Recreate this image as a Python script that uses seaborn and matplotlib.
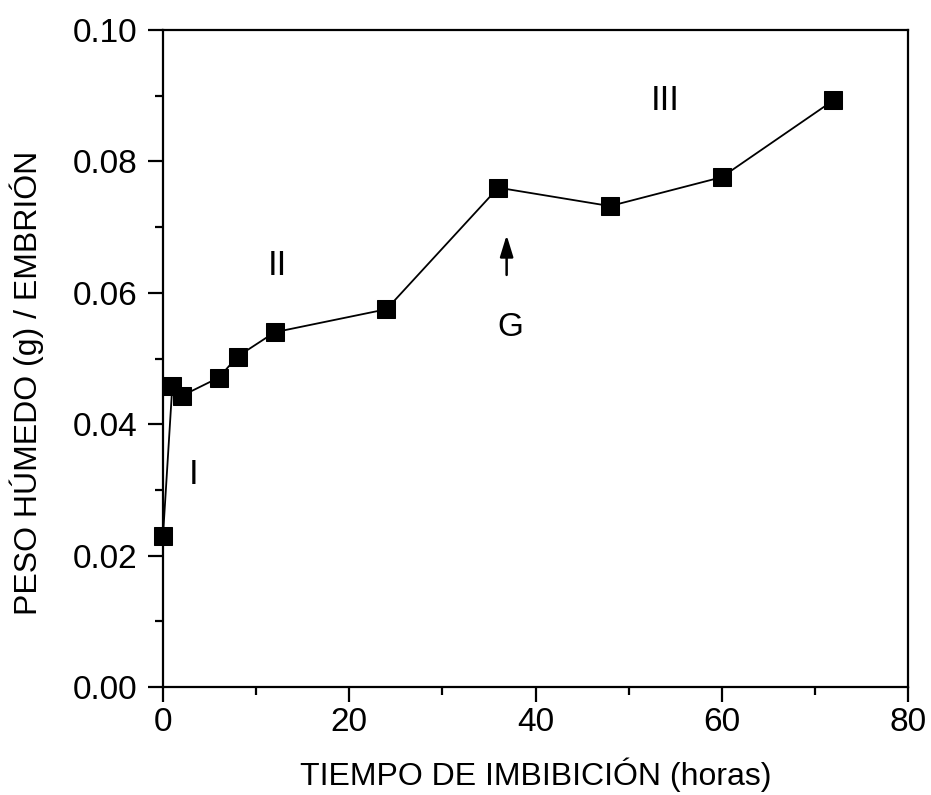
import matplotlib
matplotlib.use("Agg")
import matplotlib.pyplot as plt
from matplotlib.ticker import MultipleLocator
import seaborn as sns
import pandas as pd

hours = [0, 1, 2, 6, 8, 12, 24, 36, 48, 60, 72]
weight = [0.0230, 0.0458, 0.0443, 0.0471, 0.0503, 0.0540, 0.0575, 0.0760, 0.0732, 0.0776, 0.0893]

phase_labels = ["I", "II", "III"]
phase_x = [3.3, 12.3, 53.9]
phase_y = [0.0324, 0.0641, 0.0892]

sns.set_style("ticks")
plt.rcParams["font.family"] = ["Liberation Sans", "DejaVu Sans"]
for k in ["text.color", "axes.labelcolor", "xtick.color", "ytick.color", "axes.edgecolor"]:
    plt.rcParams[k] = "black"

df = pd.DataFrame({"hours": hours, "weight": weight})

fig = plt.figure(figsize=(9.31, 7.95), dpi=100)
ax = fig.add_axes([163/931, 1-687/795, (908-163)/931, (687-30)/795])

sns.lineplot(data=df, x="hours", y="weight", ax=ax, color="black", linewidth=1.3,
             marker="s", markersize=13, markeredgecolor="black", markerfacecolor="black",
             sort=False, clip_on=False, zorder=5)

ax.set_xlim(0, 80)
ax.set_ylim(0, 0.10)
ax.xaxis.set_major_locator(MultipleLocator(20))
ax.xaxis.set_minor_locator(MultipleLocator(10))
ax.yaxis.set_major_locator(MultipleLocator(0.02))
ax.yaxis.set_minor_locator(MultipleLocator(0.01))
ax.yaxis.set_major_formatter(matplotlib.ticker.FormatStrFormatter("%.2f"))

for s in ax.spines.values():
    s.set_linewidth(1.6)
    s.set_visible(True)
    s.set_color("black")

ax.tick_params(which="major", direction="out", length=10.5, width=1.6, labelsize=24, color="black", labelcolor="black")
ax.tick_params(which="minor", direction="out", length=5.5, width=1.6, color="black")
ax.tick_params(axis="y", which="major", pad=8)
ax.tick_params(axis="x", which="major", pad=4)

ax.set_xlabel("TIEMPO DE IMBIBICIÓN (horas)", fontsize=23, labelpad=14, color="black")
ax.set_ylabel("PESO HÚMEDO (g) / EMBRIÓN", fontsize=23, color="black")
ax.yaxis.set_label_coords(-0.160, 0.463)

for lab, x, y in zip(phase_labels, phase_x, phase_y):
    ax.text(x, y, lab, fontsize=25, ha="center", va="center", color="black")

ax.annotate("", xy=(36.9, 0.0692), xytext=(36.9, 0.0623),
            arrowprops=dict(arrowstyle="-|>,head_length=1.3,head_width=0.4", color="black", lw=1.8))
ax.text(37.3, 0.0547, "G", fontsize=24, ha="center", va="center", color="black")

fig.savefig("out.png", dpi=100)
